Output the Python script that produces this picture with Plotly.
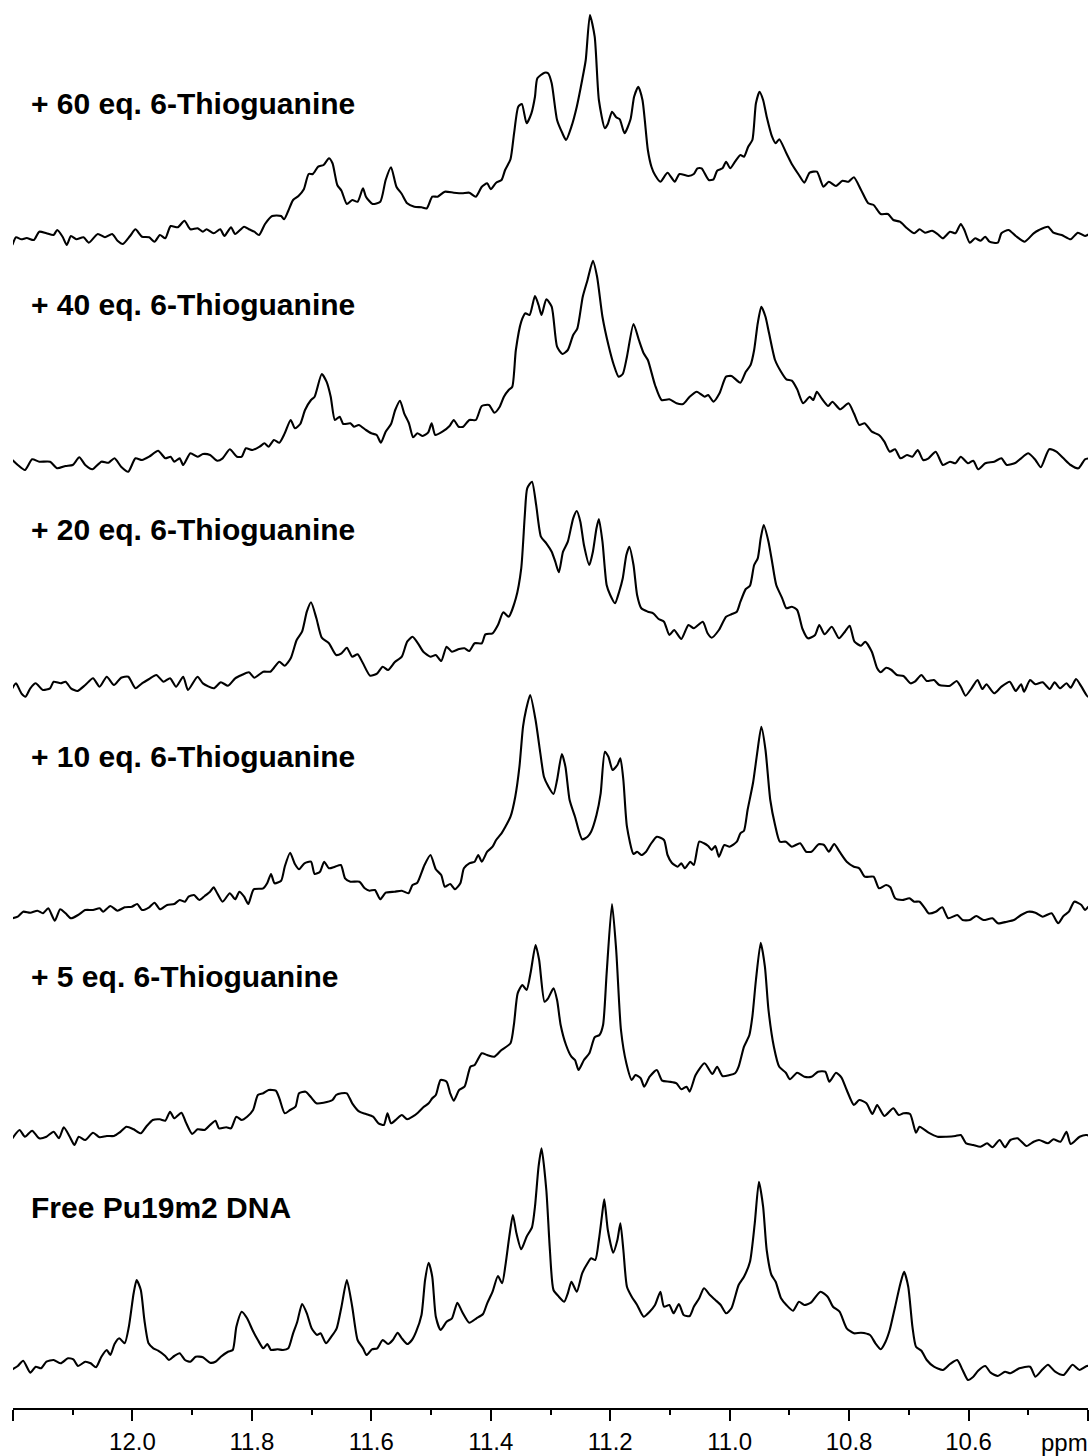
import plotly.graph_objects as go

# ---------------- data (ppm, intensity) ----------------
spec_60eq = [
    (12.201,-5),(12.195,2.7),(12.186,0.7),(12.177,2),(12.165,0),(12.156,8.3),(12.144,6.7),(12.132,5),(12.126,10),(12.117,3.3),
    (12.110,-5),(12.103,4),(12.094,0.7),(12.082,2.7),(12.073,-2.7),(12.058,6),(12.046,2.7),(12.034,6),(12.025,-0.7),(12.016,-4),
    (12.004,4),(11.995,10.7),(11.984,3.3),(11.972,2.7),(11.963,-1.7),(11.954,5),(11.945,1.7),(11.936,14),(11.924,12.7),(11.913,19.3),
    (11.903,10.7),(11.891,11.7),(11.882,8.3),(11.876,10.7),(11.864,6.7),(11.853,10.7),(11.846,4),(11.835,12.7),(11.828,6),(11.813,13.3),
    (11.805,10.7),(11.796,8.3),(11.788,5),(11.778,16),(11.766,24),(11.751,24),(11.746,20.7),(11.739,29.3),(11.731,40),(11.722,44),
    (11.713,50.7),(11.705,66),(11.698,66),(11.689,73.3),(11.680,75),(11.671,81.7),(11.665,76.7),(11.657,55),(11.650,49.3),(11.641,36),
    (11.632,40),(11.623,38.3),(11.614,51.7),(11.609,43.3),(11.598,36),(11.585,38.3),(11.576,60),(11.567,72.7),(11.558,53.3),(11.549,46),
    (11.540,36.7),(11.528,33.3),(11.516,32.7),(11.507,31.7),(11.498,43.3),(11.489,43.3),(11.477,48.3),(11.462,47.3),(11.448,46.7),(11.436,47.3),
    (11.425,43.3),(11.415,53.3),(11.406,56.7),(11.400,50.7),(11.391,57.3),(11.382,60),(11.376,70),(11.367,80.7),(11.361,106.7),(11.354,133.3),
    (11.348,136),(11.340,116.7),(11.332,126.7),(11.326,143.3),
    (11.322,161.7),(11.310,167.3),(11.304,166.7),(11.298,156.7),(11.289,120),(11.280,106.7),(11.274,100),(11.265,113.3),(11.256,133.3),(11.247,160),
    (11.241,180),(11.234,225),(11.226,203.3),(11.219,140),(11.209,111.7),(11.204,116),(11.197,128.3),(11.190,122.7),(11.184,120.7),(11.176,106.7),
    (11.166,120.7),(11.160,143.3),(11.153,153.3),(11.146,140),(11.137,90),(11.131,73.3),(11.125,65),(11.116,58.3),(11.104,67.3),(11.092,58.3),
    (11.084,66),(11.069,64),(11.060,66),(11.054,71.7),(11.047,71.7),(11.035,60),(11.027,60.7),(11.021,69.3),(11.012,71.7),(11.006,78.3),
    (10.999,71.7),(10.991,78.3),(10.982,85),(10.976,83.3),(10.969,93.3),(10.962,100),(10.956,136.7),(10.950,148.3),(10.944,140),(10.938,123.3),
    (10.929,103.3),(10.923,96.7),(10.917,100.7),(10.905,86.7),(10.896,76),(10.884,65),(10.875,57.3),(10.866,67.3),(10.854,68.3),(10.843,53.3),
    (10.834,58.3),(10.822,54),(10.811,59.3),(10.801,58.3),(10.792,62.7),(10.780,50),(10.768,36.7),(10.759,35),(10.747,26),(10.735,26),
    (10.726,20),(10.715,18.3),(10.703,11.7),(10.691,6.7),(10.682,10.7),(10.673,7.3),(10.661,9.3),(10.652,6),(10.643,1.7),(10.631,8.3),
    (10.622,6.7),(10.613,16),(10.607,10),(10.598,-2.7),(10.589,1.7),(10.580,-0.7),(10.572,3.3),(10.565,-1.7),(10.551,-2.7),(10.545,6.7),
    (10.533,10),(10.521,4),(10.506,-1.7),(10.491,6.7),(10.482,10),(10.467,13.3),(10.458,7.3),(10.444,5),(10.429,0.7),(10.417,7.3),
    (10.405,4),(10.396,6.7),
]

spec_40eq = [
    (12.201,2),(12.192,-3),(12.180,-8),(12.168,2.7),(12.156,0.3),(12.138,0.3),(12.126,-6.3),(12.112,-4),(12.100,-3),(12.089,4.7),
    (12.079,-3),(12.067,-7.3),(12.052,0.3),(12.040,-0.7),(12.030,3.7),(12.019,-4.7),(12.007,-9.7),(11.995,3.7),(11.984,2),(11.972,5.3),
    (11.957,11.3),(11.945,3.7),(11.936,5.3),(11.930,0.3),(11.921,3.7),(11.915,-3),(11.903,8.7),(11.891,5.3),(11.882,8),(11.870,7),
    (11.858,1.3),(11.849,3.7),(11.837,12.7),(11.825,5.3),(11.817,5.3),(11.810,13.7),(11.799,12),(11.787,15.3),(11.779,18.7),(11.772,15.3),
    (11.763,22),(11.754,19.3),(11.745,28.7),(11.735,42),(11.728,33.7),(11.719,38),(11.711,52),(11.701,62),(11.695,65.3),(11.683,88),
    (11.675,80.3),(11.668,65.3),(11.661,42),(11.653,45.3),(11.647,38),(11.635,38.7),(11.629,35.3),(11.621,37),(11.609,32),(11.600,28.7),
    (11.591,27),(11.584,19.3),(11.576,30.3),(11.567,38),(11.560,52),(11.552,61.3),(11.545,48.7),(11.537,38.7),(11.530,24.7),(11.523,28.7),
    (11.514,26),(11.505,29.3),(11.499,38.7),(11.493,27),(11.481,30.3),(11.469,36),(11.462,42),(11.454,35.3),(11.446,35.3),(11.436,42),
    (11.425,42),(11.415,56),(11.403,57),(11.394,49.3),(11.385,55.3),(11.378,65.3),(11.370,72),(11.364,75.3),(11.358,112),(11.349,140.3),
    (11.342,148.7),(11.335,147),(11.326,166),(11.320,157),
    (11.315,147),(11.307,162.7),(11.298,155.3),(11.289,115.3),(11.280,108),(11.271,112),(11.262,127),(11.255,133.7),(11.246,165.3),(11.238,182),
    (11.229,201.3),(11.222,185.3),(11.213,145.3),(11.203,117),(11.194,97),(11.186,85.3),(11.179,88),(11.172,105.3),(11.161,138),(11.152,122),
    (11.144,108.7),(11.137,102),(11.125,77),(11.114,62),(11.101,62.7),(11.089,58.7),(11.078,58),(11.067,65.3),(11.055,70.3),(11.042,65.3),
    (11.036,67),(11.027,60.3),(11.017,68.7),(11.006,85.3),(10.997,86),(10.982,79.3),(10.973,90.3),(10.965,97),(10.959,112),(10.953,138.7),
    (10.947,155.3),(10.940,145.3),(10.934,128.7),(10.924,102),(10.914,90.3),(10.905,82.7),(10.896,81.3),(10.887,72.7),(10.877,58.7),(10.866,65.3),
    (10.860,62),(10.854,70.3),(10.846,63.7),(10.835,56),(10.828,60.3),(10.815,52.7),(10.801,58.7),(10.792,48.7),(10.783,37),(10.774,38.7),
    (10.762,30.3),(10.750,27),(10.741,20.3),(10.732,10.3),(10.723,12.7),(10.714,3.7),(10.703,7),(10.694,5.3),(10.685,12),(10.676,2),
    (10.667,3.7),(10.655,10.3),(10.643,-3),(10.631,0.3),(10.622,-1.3),(10.613,5.3),(10.601,-1.3),(10.592,1.3),(10.584,-7.3),(10.572,-1.3),
    (10.557,0.3),(10.545,3.7),(10.536,-3),(10.521,-0.7),(10.512,3.7),(10.500,8.7),(10.488,2),(10.479,-5.3),(10.465,12.7),(10.453,10.3),
    (10.441,3.7),(10.429,-3),(10.416,-6.3),(10.405,2.7),(10.396,3.7),
]

spec_20eq = [
    (12.201,-0.3),(12.195,4.7),(12.186,-5.3),(12.179,-8.7),(12.171,-0.3),(12.162,4.7),(12.150,-2),(12.138,-0.3),(12.132,6.3),(12.120,4.7),
    (12.112,6.3),(12.103,-0.3),(12.092,-3),(12.079,3),(12.066,9.7),(12.055,1.3),(12.043,11.3),(12.031,3),(12.019,10.3),(12.007,11.3),
    (11.995,-0.3),(11.984,4.7),(11.972,9),(11.960,13),(11.948,6.3),(11.937,9.7),(11.927,1.3),(11.915,11.3),(11.907,-2),(11.891,11.3),
    (11.882,4.7),(11.864,-0.3),(11.852,5.7),(11.840,2.3),(11.828,9.7),(11.817,13),(11.805,15.7),(11.796,10.3),(11.781,16.3),(11.769,16.3),
    (11.763,20.3),(11.754,26.3),(11.745,22.3),(11.735,29.7),(11.725,48),(11.716,56.3),(11.708,76.3),(11.701,85.7),(11.692,69.7),(11.683,50.3),
    (11.671,44.7),(11.659,33),(11.650,34.7),(11.641,40.3),(11.632,31.3),(11.623,33.7),(11.614,24.7),(11.602,12.3),(11.590,14.7),(11.581,21.3),
    (11.572,18),(11.561,25.7),(11.549,31.3),(11.540,46.3),(11.531,51.3),(11.522,44.7),(11.513,36.3),(11.501,31.3),(11.492,33),(11.483,27),
    (11.474,41.3),(11.465,36.3),(11.453,39),(11.444,39.7),(11.436,37),(11.427,44.7),(11.415,44.7),(11.409,53.7),(11.397,54.7),(11.388,63),
    (11.379,75.7),(11.370,71.3),(11.358,89.7),(11.349,119.7),(11.343,173),(11.339,199.7),(11.331,206.3),(11.324,183),
    (11.316,151.3),(11.307,144.7),(11.298,136.3),(11.292,126.3),(11.286,115.7),(11.279,136.3),(11.271,146.3),(11.262,169.7),(11.256,177),(11.250,166.3),
    (11.244,143),(11.235,123),(11.229,136.3),(11.223,159.7),(11.219,169),(11.213,146.3),(11.206,103),(11.200,93),(11.192,84.7),(11.185,96.3),
    (11.179,109.7),(11.173,133),(11.168,141.3),(11.161,123),(11.155,93),(11.148,79.7),(11.137,76.3),(11.128,74.7),(11.119,69),(11.110,66.3),
    (11.101,53),(11.093,58),(11.081,49),(11.069,63),(11.060,59.7),(11.045,66.3),(11.037,54.7),(11.030,50.3),(11.018,58),(11.006,71.3),
    (10.997,73.7),(10.988,76.3),(10.982,86.3),(10.973,99),(10.966,102.3),(10.959,123),(10.953,129.7),(10.948,149.7),(10.943,163),(10.935,146.3),
    (10.929,126.3),(10.922,103),(10.912,89.7),(10.905,79.7),(10.896,81.3),(10.887,78),(10.878,59),(10.869,49.7),(10.857,53),(10.850,63),
    (10.841,53.7),(10.829,61.3),(10.817,49.7),(10.807,56.3),(10.799,62.3),(10.791,46.3),(10.780,42.3),(10.773,46.3),(10.762,36.3),(10.753,19.7),
    (10.747,15.7),(10.738,20.3),(10.729,18),(10.720,13),(10.709,12),(10.697,4.7),(10.690,6.3),(10.679,13),(10.670,7),(10.658,8),
    (10.649,3),(10.631,2.3),(10.620,7),(10.613,1.3),(10.605,-7.7),(10.595,-0.3),(10.585,8),(10.577,-1),(10.570,3.7),(10.557,-5.3),
    (10.545,1.3),(10.531,6.3),(10.521,-3),(10.512,3.7),(10.507,-3.7),(10.497,8),(10.488,3.7),(10.476,5.7),(10.464,-1),(10.456,5.7),
    (10.447,-0.3),(10.436,4.7),(10.429,0.3),(10.420,9),(10.411,1.3),(10.400,-8.7),(10.394,-2),
]

spec_10eq = [
    (12.201,-5.3),(12.192,-3.7),(12.183,1.3),(12.171,0.3),(12.159,2.3),(12.150,-0.3),(12.141,4.7),(12.130,-7.7),(12.121,3.7),(12.112,-0.3),
    (12.103,-5.3),(12.091,-2),(12.079,3),(12.066,3),(12.055,4.7),(12.049,1.3),(12.037,7),(12.025,2.3),(12.013,5.7),(12.001,6.3),
    (11.992,9),(11.984,3),(11.972,5.7),(11.963,10.3),(11.954,3.7),(11.942,8),(11.930,9),(11.921,13),(11.912,11.3),(11.906,16.3),
    (11.897,18),(11.888,13),(11.879,17),(11.870,21.3),(11.864,25.7),(11.858,19.7),(11.849,11.3),(11.837,19.7),(11.828,13.7),(11.821,21.3),
    (11.813,16.3),(11.806,9),(11.797,23.7),(11.781,24.7),(11.774,30.3),(11.768,39),(11.762,29.7),(11.751,32.3),(11.745,46.3),(11.736,60.3),
    (11.728,49),(11.721,43.7),(11.712,49.7),(11.701,51.3),(11.695,39),(11.686,41.3),(11.679,51.3),(11.671,44.7),(11.661,46.3),(11.651,48),
    (11.644,34.7),(11.635,31.3),(11.620,31.3),(11.611,24.7),(11.603,22.3),(11.594,23),(11.585,13.7),(11.576,20.3),(11.561,21.3),(11.549,22.3),
    (11.538,19.7),(11.531,28),(11.523,30.3),(11.511,48),(11.501,58),(11.492,43.7),(11.483,38),(11.477,26.3),(11.468,29),(11.460,23.7),
    (11.451,29.7),(11.445,44.7),(11.436,49.7),(11.427,51.3),(11.421,58),(11.415,51.3),(11.406,61.3),(11.397,66.3),(11.391,73),(11.382,79.7),
    (11.376,85.7),(11.367,96.3),(11.359,116.3),(11.352,146.3),(11.346,186.3),(11.341,203),(11.334,218),(11.325,193),
    (11.317,159.7),(11.311,136.3),(11.304,127),(11.295,119),(11.289,133),(11.281,159),(11.275,146.3),(11.268,113),(11.259,96.3),(11.247,73.7),
    (11.238,76.3),(11.232,81.3),(11.223,98),(11.216,119.7),(11.209,161.3),(11.203,156.3),(11.196,143),(11.188,148),(11.183,154.7),(11.178,133),
    (11.172,86.3),(11.161,59),(11.155,61.3),(11.148,58),(11.140,61.3),(11.132,69),(11.122,76.3),(11.110,73),(11.104,58),(11.097,50.3),
    (11.087,46.3),(11.081,49.7),(11.075,44.7),(11.066,51.3),(11.060,48),(11.051,71.3),(11.043,69.7),(11.036,67),(11.030,63),(11.024,67),
    (11.018,56.3),(11.009,68),(11.000,66.3),(10.988,71.3),(10.982,79.7),(10.976,82.3),(10.970,103),(10.961,129.7),(10.954,159.7),(10.947,186.3),
    (10.940,163),(10.932,113),(10.924,88),(10.916,71.3),(10.906,71.3),(10.896,66.3),(10.882,69.7),(10.872,61.3),(10.863,61.3),(10.851,68.7),
    (10.842,68),(10.834,61.3),(10.825,69),(10.816,61.3),(10.804,51.3),(10.792,46.3),(10.783,44.7),(10.774,36.3),(10.759,36.3),(10.750,24.7),
    (10.738,28),(10.731,25.7),(10.723,14.7),(10.711,13),(10.699,14.7),(10.691,11.3),(10.682,11.3),(10.673,4.7),(10.667,-0.3),(10.655,1.3),
    (10.644,5.7),(10.634,-5.3),(10.619,-2),(10.610,-7),(10.598,-7),(10.587,-3),(10.575,-7),(10.560,-5.3),(10.551,-10.3),(10.536,-8.7),
    (10.524,-7),(10.512,-2),(10.500,1.3),(10.488,0.3),(10.476,-3.7),(10.461,-0.3),(10.450,-10.3),(10.441,-3),(10.432,1.3),(10.423,11.3),
    (10.411,8),(10.405,3),(10.399,6.3),(10.394,1.3),
]

spec_5eq = [
    (12.201,-1.3),(12.189,7),(12.180,0.3),(12.168,6.3),(12.156,-1.3),(12.144,0.3),(12.132,5.3),(12.123,-1.3),(12.115,9.7),(12.105,0.3),
    (12.097,-8),(12.090,0.3),(12.079,-3),(12.066,4.3),(12.055,-0.3),(12.043,1),(12.031,1),(12.022,4.3),(12.010,10.3),(11.998,7.7),
    (11.986,3.7),(11.977,10.3),(11.966,17),(11.954,17.7),(11.945,16.3),(11.937,25.3),(11.930,18.7),(11.918,24.3),(11.911,15.3),(11.900,3),
    (11.891,7.7),(11.879,7),(11.870,12),(11.861,16.3),(11.855,8.7),(11.843,9.7),(11.835,8.7),(11.826,20.3),(11.817,17),(11.808,20.3),
    (11.798,27),(11.790,42),(11.781,43.7),(11.772,47),(11.760,46.3),(11.754,38.7),(11.745,23.7),(11.736,27),(11.727,30.3),(11.721,43.7),
    (11.710,45.3),(11.701,39.7),(11.692,33.7),(11.680,34.3),(11.665,37),(11.659,42),(11.650,43.7),(11.641,43.7),(11.632,33.7),(11.620,25.3),
    (11.609,23),(11.597,20.3),(11.588,13.7),(11.579,12),(11.573,23.7),(11.567,13.7),(11.558,17.7),(11.549,22),(11.540,17.7),(11.531,20.3),
    (11.522,24.3),(11.513,29.7),(11.504,33.7),(11.498,38.7),(11.492,42),(11.484,57),(11.474,55.3),(11.468,43.7),(11.462,36.3),(11.453,47),
    (11.444,50.3),(11.434,70.3),(11.427,72),(11.415,83.7),(11.406,82),(11.394,80.3),(11.382,87),(11.367,93.7),(11.361,113.7),(11.355,143.7),
    (11.347,152),(11.340,147),(11.333,165.3),(11.325,192),(11.319,177),
    (11.310,135.3),(11.304,138.7),(11.295,148.7),(11.289,137),(11.283,112),(11.274,92),(11.265,80.3),(11.259,77),(11.253,67),(11.244,77),
    (11.235,83.7),(11.226,99.7),(11.218,102),(11.212,112),(11.206,163.7),(11.197,233),(11.190,187),(11.182,107),(11.173,73.7),(11.164,57),
    (11.158,62),(11.149,58.7),(11.143,50.3),(11.134,60.3),(11.122,67),(11.113,56.3),(11.101,55.3),(11.089,53.7),(11.081,47.7),(11.072,50.3),
    (11.067,45.3),(11.057,62),(11.042,73.7),(11.029,63),(11.021,70.3),(11.012,61),(11.000,62),(10.991,63.7),(10.985,70.3),(10.976,90.3),
    (10.967,102),(10.962,120.3),(10.956,157),(10.948,194.3),(10.941,170.3),(10.935,127),(10.926,90.3),(10.917,70.3),(10.906,64.3),(10.899,57.7),
    (10.887,64.3),(10.875,60.3),(10.863,60.3),(10.852,65.3),(10.840,65.3),(10.833,55.3),(10.822,64.3),(10.813,59.7),(10.804,47),(10.792,32),
    (10.783,37),(10.771,33.7),(10.761,23),(10.753,32),(10.741,21),(10.726,28.7),(10.717,22),(10.709,23.7),(10.698,23),(10.688,4.3),
    (10.682,10.3),(10.667,4.3),(10.652,0.3),(10.637,0.3),(10.622,1),(10.613,2),(10.604,-6.3),(10.592,-8),(10.580,-9.7),(10.569,-6.3),
    (10.560,-10.3),(10.548,-3),(10.539,-10.3),(10.530,-3),(10.518,-1.3),(10.503,-9),(10.491,-4.7),(10.482,-3),(10.467,-6.3),(10.458,-2.3),
    (10.446,-4.7),(10.436,5.3),(10.429,-7),(10.414,0.3),(10.402,2),(10.396,0.3),
]

spec_free = [
    (12.201,-4.3),(12.192,-1),(12.183,4.3),(12.171,-7.7),(12.162,-1.7),(12.153,-3.3),(12.144,3.3),(12.132,5),(12.120,1.7),(12.108,6.7),
    (12.099,5.7),(12.091,-1),(12.079,3.3),(12.070,1.7),(12.061,-2.3),(12.052,8.3),(12.043,15),(12.037,10),(12.030,21),(12.022,26.7),
    (12.013,21.7),(12.006,38.3),(11.998,71.7),(11.993,85),(11.986,75),(11.980,45),(11.973,21.7),(11.965,16.7),(11.957,14.3),(11.945,9),
    (11.939,5),(11.930,9),(11.921,11.7),(11.912,5),(11.903,3.3),(11.894,8.3),(11.882,7.7),(11.870,2.3),(11.861,3.3),(11.852,8.3),
    (11.840,13.3),(11.832,15),(11.826,38.3),(11.817,53.3),(11.808,46.7),(11.799,35),(11.790,25),(11.781,16.7),(11.774,21),(11.768,15),
    (11.757,15.7),(11.748,15),(11.739,16.7),(11.731,31.7),(11.724,43.3),(11.716,61),(11.708,51.7),(11.700,36.7),(11.691,30),(11.685,31.7),
    (11.676,21.7),(11.667,28.3),(11.658,36.7),(11.650,58.3),(11.641,85),(11.632,58.3),(11.623,25),(11.614,16.7),(11.608,10),(11.599,15.7),
    (11.590,16.7),(11.581,25),(11.572,21),(11.564,25),(11.556,32.3),(11.549,26.7),(11.540,21),(11.532,25),(11.525,33.3),(11.516,50),
    (11.510,85),(11.504,102.3),(11.498,88.3),(11.492,48.3),(11.484,35),(11.474,43.3),(11.465,46.7),(11.456,62.3),(11.448,53.3),(11.436,42.3),
    (11.424,46.7),(11.413,51),(11.406,61.7),(11.397,73.3),(11.388,89),(11.381,81.7),(11.375,101.7),(11.369,128.3),(11.363,150),(11.357,131.7),
    (11.349,115.7),(11.340,128.3),(11.331,137.7),(11.326,158.3),(11.320,198.3),(11.315,216.7),
    (11.307,175),(11.301,115),(11.295,75),(11.286,68.3),(11.277,63.3),(11.271,71.7),(11.265,83.3),(11.256,73.3),(11.247,91.7),(11.238,101.7),
    (11.232,106.7),(11.225,105),(11.219,125),(11.214,148.3),(11.210,165.7),(11.204,135),(11.195,112.3),(11.188,125),(11.183,141.7),(11.178,115),
    (11.172,78.3),(11.164,68.3),(11.155,60),(11.144,48.3),(11.134,53.3),(11.125,60),(11.116,73.3),(11.110,58.3),(11.101,60),(11.094,51.7),
    (11.085,61),(11.077,50),(11.067,49),(11.060,58.3),(11.051,66.7),(11.043,76.7),(11.033,70),(11.024,65),(11.015,60),(11.006,51.7),
    (10.997,56.7),(10.985,80),(10.976,88.3),(10.966,103.3),(10.958,141.7),(10.951,183.3),(10.944,158.3),(10.938,115),(10.930,90),(10.923,83.3),
    (10.914,66.7),(10.905,60),(10.894,54.3),(10.884,63.3),(10.875,60),(10.864,62.3),(10.848,73.3),(10.836,68.3),(10.827,58.3),(10.816,53.3),
    (10.804,36.7),(10.792,31.7),(10.780,32.3),(10.765,30),(10.756,21.7),(10.747,15.7),(10.739,23.3),(10.732,35),(10.723,58.3),(10.714,81.7),
    (10.708,93.3),(10.701,78.3),(10.694,38.3),(10.688,18.3),(10.679,14.3),(10.670,5),(10.658,-1.7),(10.643,-5),(10.631,1),(10.619,5),
    (10.610,-5),(10.601,-15),(10.593,-12.3),(10.584,-5.7),(10.572,-1),(10.563,-7.7),(10.551,-11),(10.539,-6.7),(10.530,-8.3),(10.515,-3.3),
    (10.497,-1.7),(10.488,-11.7),(10.476,-4.3),(10.467,0.3),(10.455,-6.7),(10.441,-10),(10.426,0.3),(10.414,-5),(10.402,-1),(10.394,-1),
]

spectrum_labels = ["+ 60 eq. 6-Thioguanine", "+ 40 eq. 6-Thioguanine", "+ 20 eq. 6-Thioguanine",
                   "+ 10 eq. 6-Thioguanine", "+ 5 eq. 6-Thioguanine", "Free Pu19m2 DNA"]
spectra = [spec_60eq, spec_40eq, spec_20eq, spec_10eq, spec_5eq, spec_free]

major_ticks = [12.2, 12.0, 11.8, 11.6, 11.4, 11.2, 11.0, 10.8, 10.6, 10.4]
major_text = ["", "12.0", "11.8", "11.6", "11.4", "11.2", "11.0", "10.8", "10.6", ""]
minor_ticks = [12.1, 11.9, 11.7, 11.5, 11.3, 11.1, 10.9, 10.7, 10.5]

# ---------------- layout constants (stacking offsets, label heights) ----------------
Y_TOP = 1408
stack_offsets = [1168, 946, 720, 495, 271, 43]
label_y = [1305, 1104, 879, 652, 432, 201]

FONT = "Liberation Sans, Arial, sans-serif"

fig = go.Figure()
for data, off in zip(spectra, stack_offsets):
    pts = sorted(data, key=lambda p: -p[0])
    fig.add_trace(go.Scatter(
        x=[p[0] for p in pts], y=[p[1] + off for p in pts],
        mode="lines", line=dict(color="black", width=2.1, shape="spline", smoothing=0.6),
        hoverinfo="skip", showlegend=False))

for txt, yy in zip(spectrum_labels, label_y):
    fig.add_annotation(text=f"<b>{txt}</b>", xref="paper", x=0.0145, xanchor="left",
                       yref="y", y=yy, yanchor="middle", showarrow=False,
                       font=dict(family=FONT, size=30, color="black"))

fig.add_annotation(text="ppm", xref="paper", x=1.0, xanchor="right", xshift=2,
                   yref="paper", y=-0.0135, yanchor="top", showarrow=False,
                   font=dict(family=FONT, size=24, color="black"))

fig.update_layout(
    width=1091, height=1456,
    margin=dict(l=13, r=3, t=0, b=48),
    paper_bgcolor="white", plot_bgcolor="white",
    xaxis=dict(range=[12.2, 10.4], tickmode="array", tickvals=major_ticks, ticktext=major_text,
               ticks="outside", ticklen=11, tickwidth=1.5, tickcolor="black",
               showline=True, linecolor="black", linewidth=1.5,
               showgrid=False, zeroline=False,
               tickfont=dict(family=FONT, size=24, color="black"),
               minor=dict(tickvals=minor_ticks, ticks="outside", ticklen=5, tickwidth=1.5,
                          tickcolor="black", showgrid=False)),
    yaxis=dict(range=[0, Y_TOP], visible=False, showgrid=False, zeroline=False),
)

fig.write_html("out.html")
